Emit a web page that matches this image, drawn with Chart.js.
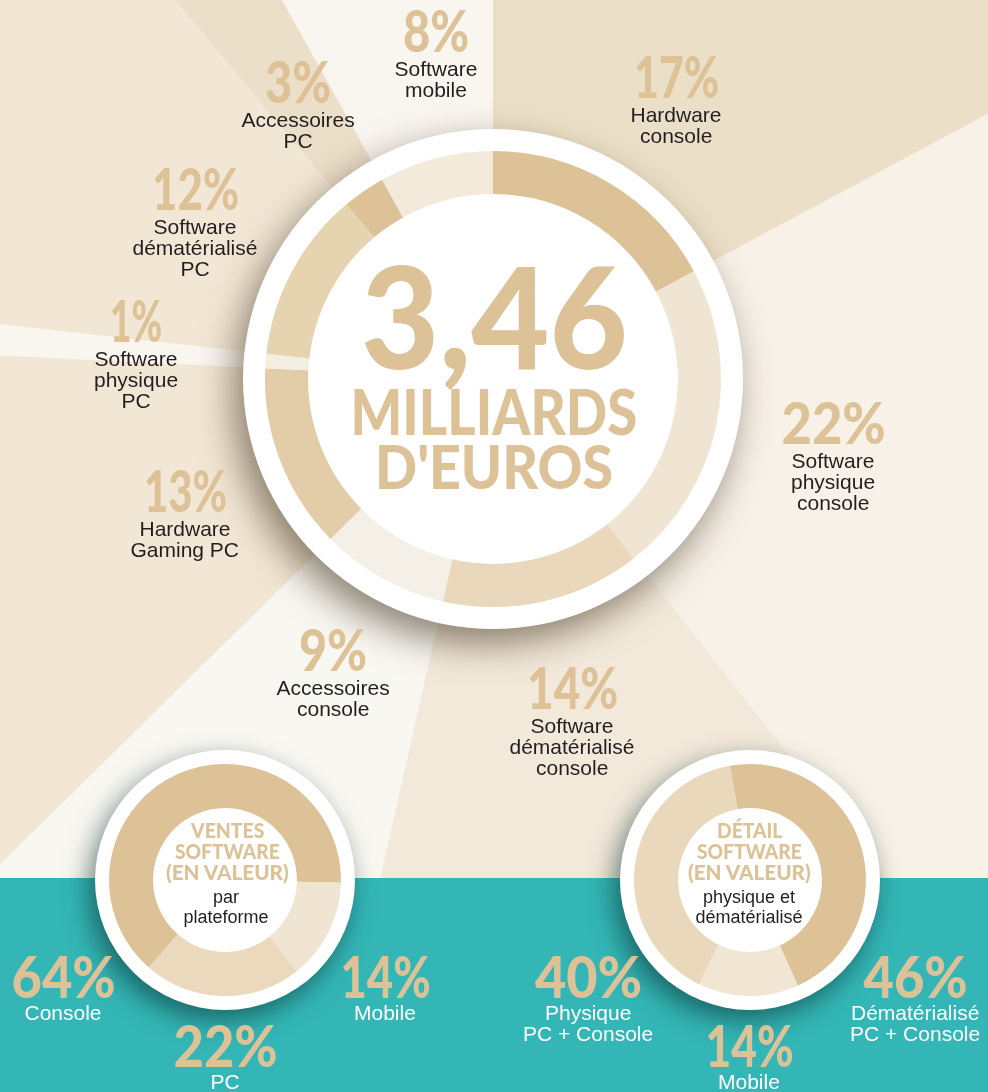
<!DOCTYPE html>
<html>
<head>
<meta charset="utf-8">
<script src="https://cdn.jsdelivr.net/npm/chart.js"></script>
<style>
  html, body { margin: 0; padding: 0; }
  body { width: 988px; height: 1092px; position: relative; overflow: hidden; background: #f3e9db; }
  canvas { position: absolute; }
  #teal { position: absolute; left: 0; top: 878px; width: 988px; height: 214px; background: #34b6b6; }
  .txt { position: absolute; white-space: nowrap; transform-origin: 50% 50%; }
  .pct { font-family: Lato, Inter, sans-serif; font-weight: 900; color: #dcc296; }
  .lbl { font-family: "Liberation Sans", Arial, sans-serif; color: #231f20; }
  .lbl.white { color: #ffffff; }
</style>
</head>
<body>
<canvas id="bg" width="988" height="1092" style="left:0;top:0;z-index:0"></canvas>
<div id="teal" style="z-index:1"></div>
<canvas id="main" width="700" height="700" style="left:143px;top:29px;z-index:2"></canvas>
<canvas id="platform" width="360" height="360" style="left:45px;top:700px;z-index:2"></canvas>
<canvas id="type" width="360" height="360" style="left:570px;top:700px;z-index:2"></canvas>
<div id="texts" style="position:absolute;left:0;top:0;width:988px;height:1092px;z-index:3"></div>

<script>
// main chart: market split by segment (sum as printed = 99)
const mainCategories = ["Hardware console", "Software physique console", "Software dématérialisé console",
  "Accessoires console", "Hardware Gaming PC", "Software physique PC", "Software dématérialisé PC",
  "Accessoires PC", "Software mobile"];
const mainValues = [17, 22, 14, 9, 13, 1, 12, 3, 8];
const mainLabelLines = [["Hardware", "console"], ["Software", "physique", "console"],
  ["Software", "dématérialisé", "console"], ["Accessoires", "console"], ["Hardware", "Gaming PC"],
  ["Software", "physique", "PC"], ["Software", "dématérialisé", "PC"], ["Accessoires", "PC"],
  ["Software", "mobile"]];
const totalText = ["3,46", "MILLIARDS", "D'EUROS"];

// software sales by platform
const platformCategories = ["Console", "Mobile", "PC"];
const platformValues = [64, 14, 22];
const platformLabelLines = [["Console"], ["Mobile"], ["PC"]];

// software physical / digital
const typeCategories = ["Dématérialisé PC + Console", "Mobile", "Physique PC + Console"];
const typeValues = [46, 14, 40];
const typeLabelLines = [["Dématérialisé", "PC + Console"], ["Mobile"], ["Physique", "PC + Console"]];

// colours
const bgColors = ["#ecdfc8", "#f8f1e7", "#f3e9db", "#f9f7f1", "#f2e6d4", "#f9f5ef", "#f2e6d5", "#ecdfc9", "#f9f5ef"];
const ringColors = ["#dcc296", "#f0e5d3", "#e9d8bb", "#f5f0e7", "#e3cda8", "#f4ede2", "#e6d3b0", "#dcc296", "#f4eadc"];
const platformColors = ["#dcc296", "#f0e4d2", "#ead9bd"];
const typeColors = ["#dcc296", "#f1e5d3", "#e9d8bb"];

// label placement: [centre x, baseline of the percentage, width of the percentage]
const mainLabelPos = [[676, 99, 85], [833, 445, 104], [572, 710, 91], [333, 672, 68], [185, 513, 83],
  [136, 343, 52], [195, 211, 87], [298, 104, 66], [436, 53, 66]];
const platformLabelPos = [[63, 999, 104], [385, 999, 90], [225, 1068, 104]];
const typeLabelPos = [[915, 999, 104], [749, 1068, 88], [588, 999, 107]];

const discPlugin = {
  id: "disc",
  beforeDatasetsDraw(chart, args, opts) {
    const arc = chart.getDatasetMeta(0).data[0];
    if (!arc) return;
    const ctx = chart.ctx;
    ctx.save();
    ctx.shadowColor = opts.shadow;
    ctx.shadowBlur = opts.blur;
    ctx.shadowOffsetX = opts.dx;
    ctx.shadowOffsetY = opts.dy;
    ctx.fillStyle = "#ffffff";
    ctx.beginPath();
    ctx.arc(arc.x, arc.y, arc.outerRadius + opts.rim, 0, Math.PI * 2);
    ctx.fill();
    ctx.restore();
  }
};

function baseOptions(extra) {
  return Object.assign({
    responsive: false,
    animation: false,
    events: [],
    plugins: { legend: { display: false }, tooltip: { enabled: false } }
  }, extra);
}

// background rays
new Chart(document.getElementById("bg"), {
  type: "pie",
  data: { labels: mainCategories, datasets: [{ data: mainValues, backgroundColor: bgColors, borderWidth: 0 }] },
  options: baseOptions({ radius: 1500, layout: { padding: { left: 0, top: 0, right: 2, bottom: 334 } } })
});

new Chart(document.getElementById("main"), {
  type: "doughnut",
  data: { labels: mainCategories, datasets: [{ data: mainValues, backgroundColor: ringColors, borderWidth: 0 }] },
  options: baseOptions({
    radius: 228, cutout: "81.1%",
    plugins: { legend: { display: false }, tooltip: { enabled: false },
      disc: { rim: 22, shadow: "rgba(70,55,35,0.6)", blur: 36, dx: -9, dy: 15 } }
  }),
  plugins: [discPlugin]
});

new Chart(document.getElementById("platform"), {
  type: "doughnut",
  data: { labels: platformCategories, datasets: [{ data: platformValues, backgroundColor: platformColors, borderWidth: 0 }] },
  options: baseOptions({
    radius: 116, cutout: "62%", rotation: -139,
    plugins: { legend: { display: false }, tooltip: { enabled: false },
      disc: { rim: 14, shadow: "rgba(10,50,50,0.6)", blur: 26, dx: -6, dy: 10 } }
  }),
  plugins: [discPlugin]
});

new Chart(document.getElementById("type"), {
  type: "doughnut",
  data: { labels: typeCategories, datasets: [{ data: typeValues, backgroundColor: typeColors, borderWidth: 0 }] },
  options: baseOptions({
    radius: 116, cutout: "62%", rotation: -10,
    plugins: { legend: { display: false }, tooltip: { enabled: false },
      disc: { rim: 14, shadow: "rgba(10,50,50,0.6)", blur: 26, dx: -6, dy: 10 } }
  }),
  plugins: [discPlugin]
});

// ---- text ----
const layer = document.getElementById("texts");
const LATO = { asc: 0.987, desc: 0.213 };
const LIB = { asc: 0.905, desc: 0.212 };

function place(text, x, base, cls, size, m, fitWidth) {
  const d = document.createElement("div");
  d.className = "txt " + cls;
  d.textContent = text;
  d.style.fontSize = size + "px";
  d.style.lineHeight = size + "px";
  const off = (size - size * (m.asc + m.desc)) / 2 + size * m.asc;
  d.style.top = (base - off) + "px";
  layer.appendChild(d);
  const w = d.offsetWidth;
  d.style.left = (x - w / 2) + "px";
  if (fitWidth) d.style.transform = "scaleX(" + (fitWidth / w) + ")";
  return d;
}

function placeLabel(value, lines, pos, white, gap) {
  place(value + "%", pos[0], pos[1], "pct", 57, LATO, pos[2]);
  lines.forEach((t, i) => {
    place(t, pos[0], pos[1] + gap + i * 20.9, white ? "lbl white" : "lbl", 21, LIB);
  });
}

mainValues.forEach((v, i) => placeLabel(v, mainLabelLines[i], mainLabelPos[i], false, 22.5));
platformValues.forEach((v, i) => placeLabel(v, platformLabelLines[i], platformLabelPos[i], true, 21));
typeValues.forEach((v, i) => placeLabel(v, typeLabelLines[i], typeLabelPos[i], true, 21));

// centre of the main ring
place(totalText[0], 494, 369, "pct", 141, LATO, 267);
place(totalText[1], 494, 435, "pct", 63, LATO, 287);
place(totalText[2], 494, 489, "pct", 61, LATO, 238);

// centres of the small rings
place("VENTES", 227, 838, "pct", 21, LATO, 73);
place("SOFTWARE", 227, 859, "pct", 21, LATO, 105);
place("(EN VALEUR)", 227, 880, "pct", 21, LATO, 123);
place("par", 226, 903, "lbl", 18, LIB);
place("plateforme", 226, 923, "lbl", 18, LIB);

place("DÉTAIL", 749, 838, "pct", 21, LATO, 65);
place("SOFTWARE", 749, 859, "pct", 21, LATO, 105);
place("(EN VALEUR)", 749, 880, "pct", 21, LATO, 123);
place("physique et", 749, 903, "lbl", 18, LIB);
place("dématérialisé", 749, 923, "lbl", 18, LIB);
</script>
</body>
</html>
